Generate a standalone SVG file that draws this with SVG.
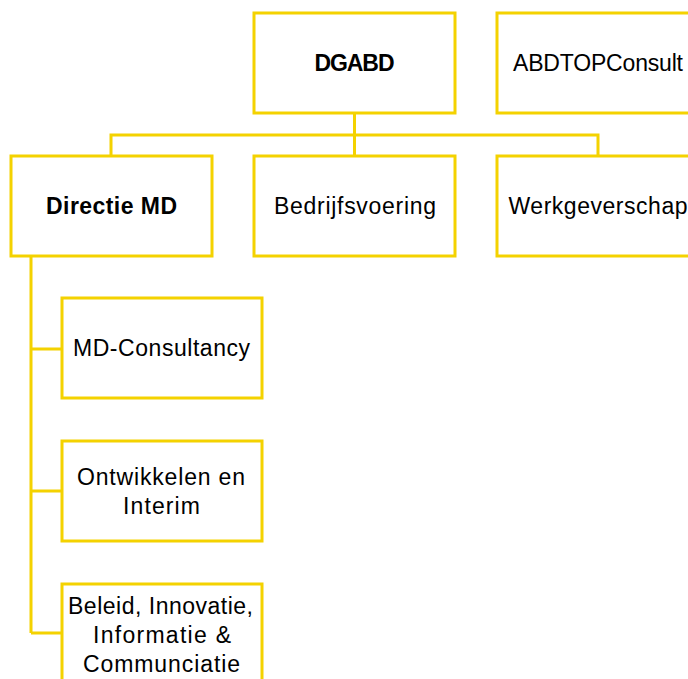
<svg xmlns="http://www.w3.org/2000/svg" width="688" height="679" viewBox="0 0 688 679">
<style>
.box{fill:#ffffff;stroke:#F4D200;stroke-width:3}
.con{fill:none;stroke:#F4D200;stroke-width:3}
text{font-family:"Liberation Sans",Arial,sans-serif;font-size:23px;fill:#000000;text-anchor:middle}
.b{font-weight:bold}
</style>
<rect width="688" height="679" fill="#ffffff"/>
<g id="connectors">
<path class="con" d="M354.5 113 V156 M111 156 V135 H598 V156"/>
<path class="con" d="M31 256 V633 M31 349 H62 M31 491 H62 M31 633 H62"/>
</g>
<g id="dgabd"><rect class="box" x="254" y="13" width="201" height="100"/><text class="b" x="354.5" y="71" textLength="80">DGABD</text></g>
<g id="abdtopconsult"><rect class="box" x="497" y="13" width="201" height="100"/><text x="598" y="71" textLength="170">ABDTOPConsult</text></g>
<g id="directie-md"><rect class="box" x="11" y="156" width="201" height="100"/><text class="b" x="111.5" y="214" textLength="131">Directie MD</text></g>
<g id="bedrijfsvoering"><rect class="box" x="254" y="156" width="201" height="100"/><text x="355" y="214" textLength="162">Bedrijfsvoering</text></g>
<g id="werkgeverschap"><rect class="box" x="497" y="156" width="201" height="100"/><text x="598" y="214" textLength="179">Werkgeverschap</text></g>
<g id="md-consultancy"><rect class="box" x="62" y="298" width="200" height="100"/><text x="161.5" y="356" textLength="177">MD-Consultancy</text></g>
<g id="ontwikkelen"><rect class="box" x="62" y="441" width="200" height="100"/><text x="161" y="485" textLength="168">Ontwikkelen en</text><text x="161.5" y="514" textLength="77">Interim</text></g>
<g id="beleid"><rect class="box" x="62" y="584" width="200" height="100"/><text x="160.5" y="614" textLength="185">Beleid, Innovatie,</text><text x="162" y="643" textLength="138">Informatie &amp;</text><text x="161.5" y="672" textLength="157">Communciatie</text></g>
</svg>
